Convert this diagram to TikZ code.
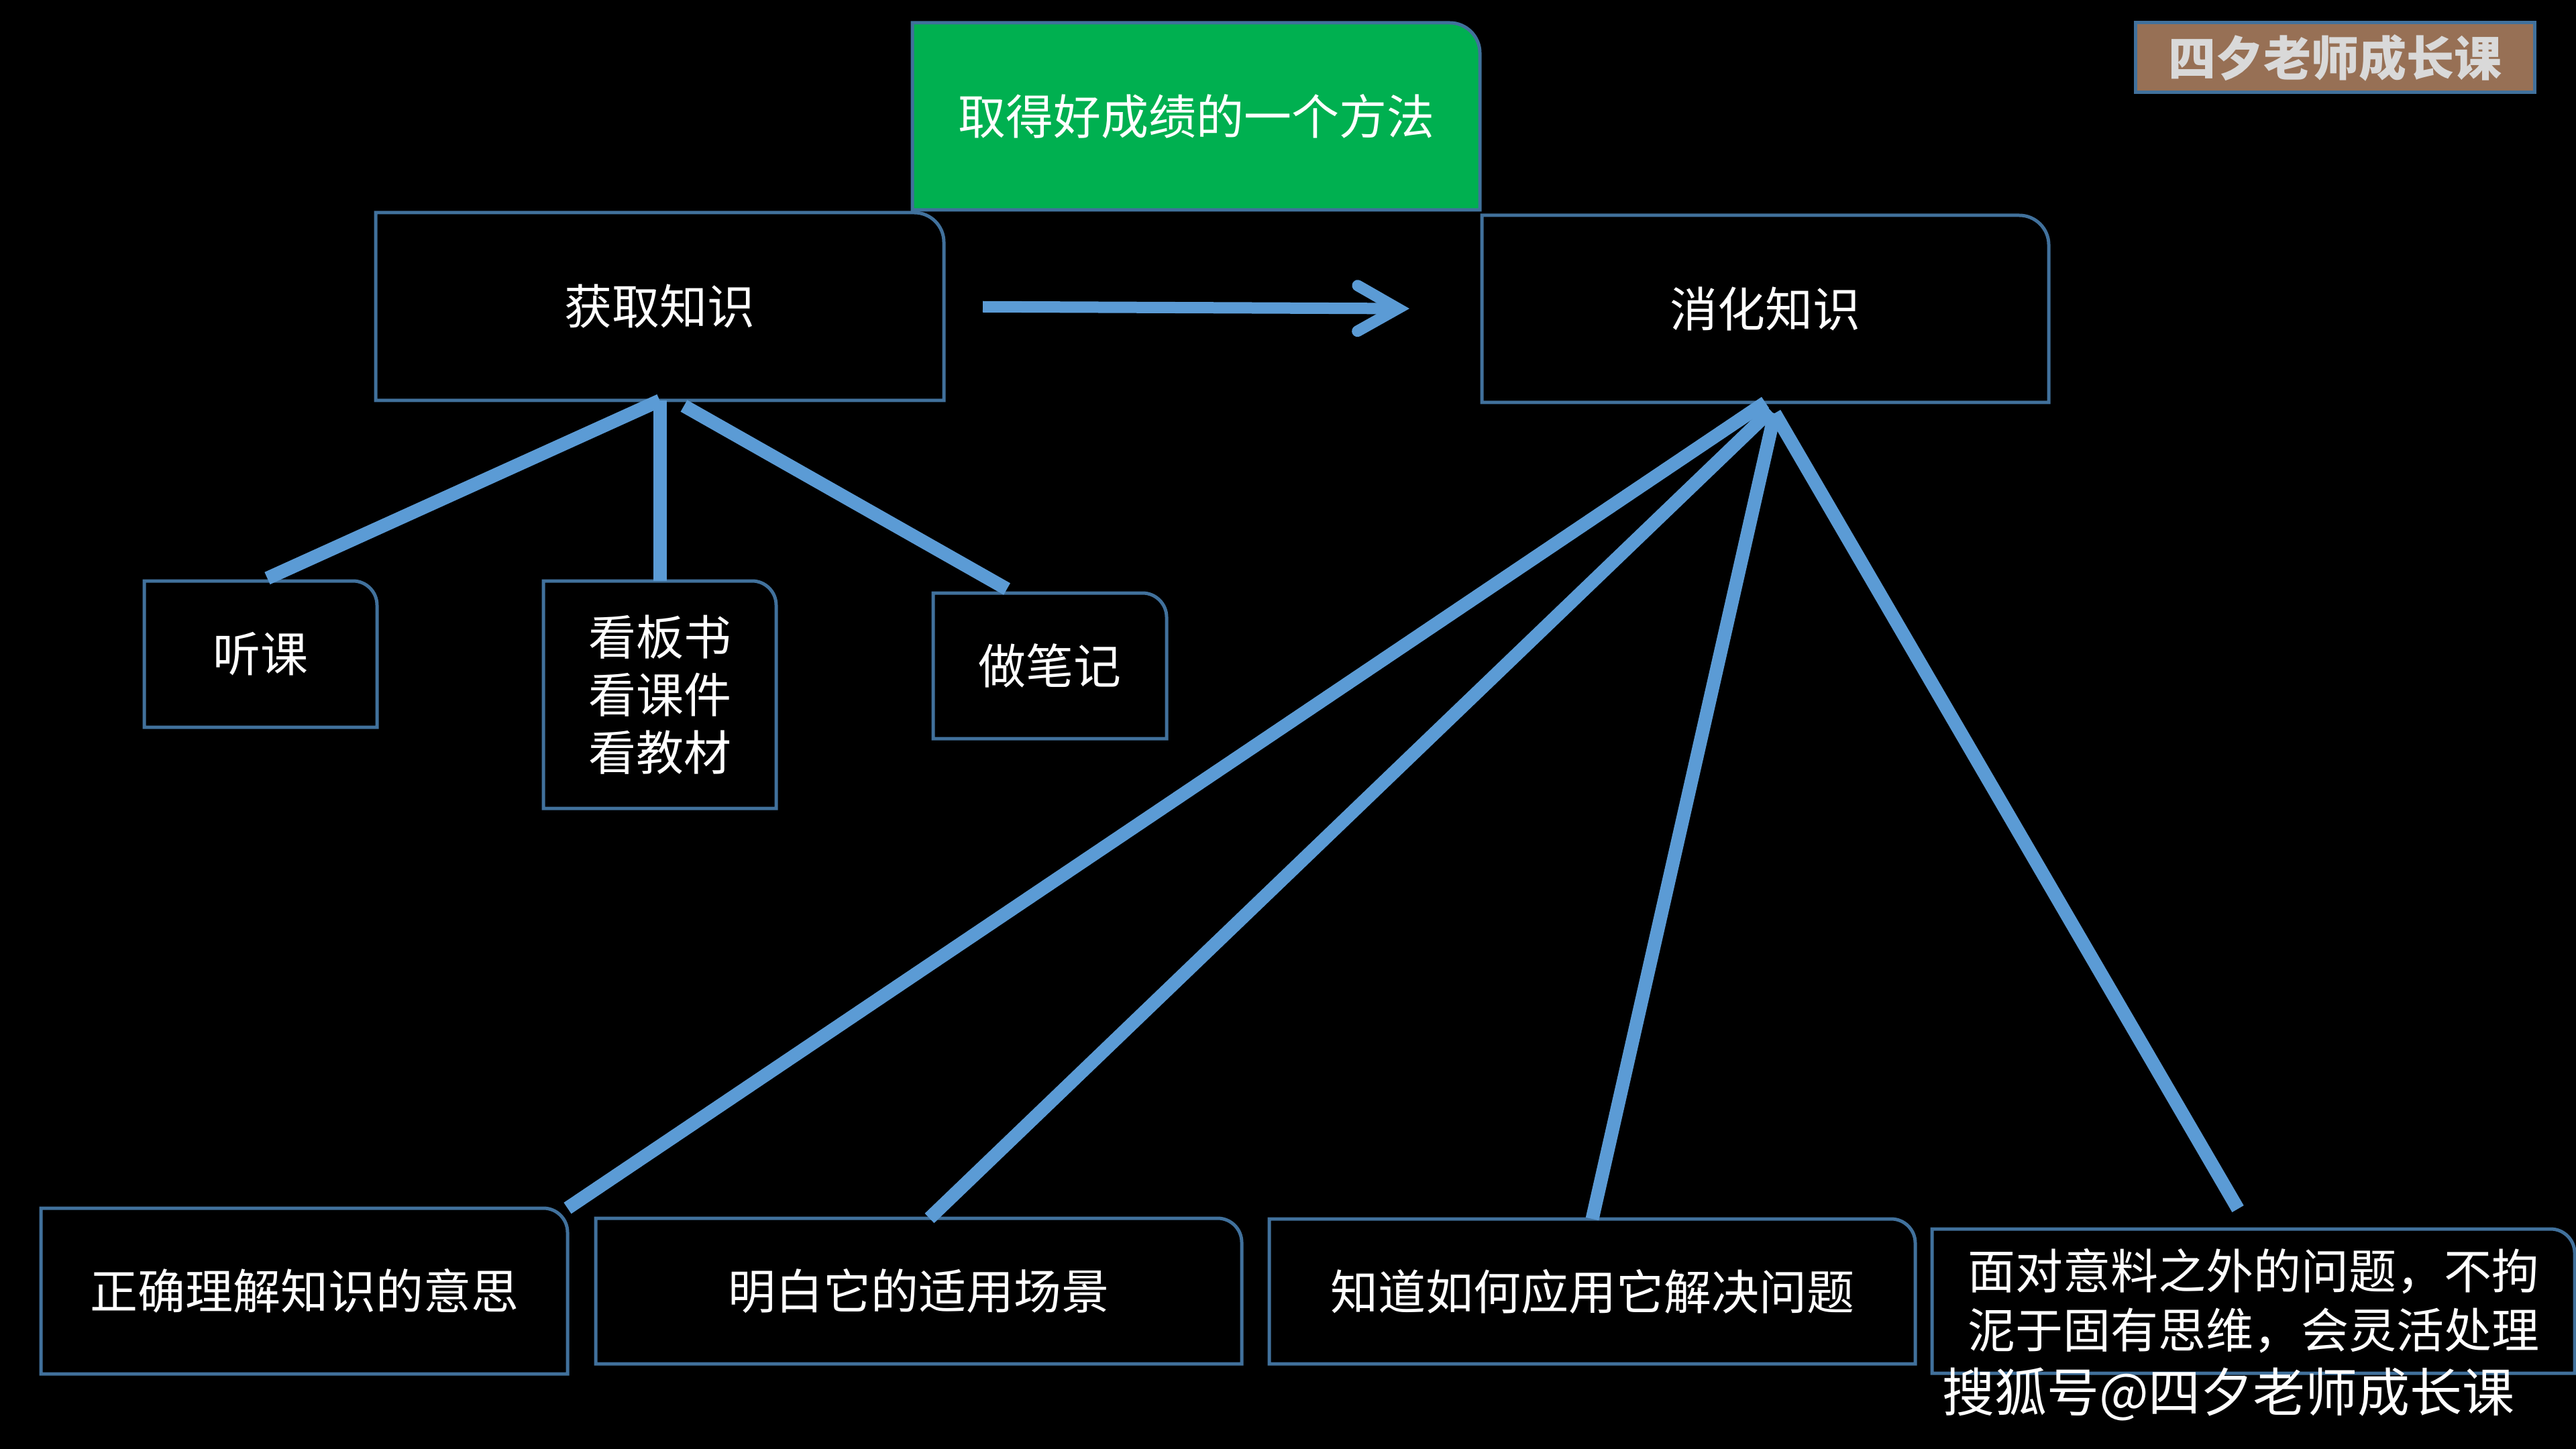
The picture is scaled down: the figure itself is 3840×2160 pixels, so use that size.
\documentclass[tikz,border=0pt]{standalone}
\usepackage{fontspec}
\setmainfont{Noto Sans CJK SC}
\usetikzlibrary{arrows.meta}
\definecolor{conn}{HTML}{5B9BD5}
\definecolor{bord}{HTML}{41719C}
\definecolor{titlegreen}{HTML}{00B050}
\definecolor{wmbrown}{HTML}{977055}
\definecolor{wmtext}{HTML}{D9D9D9}
\pgfdeclarelayer{bg}
\pgfsetlayers{bg,main}
\newcommand\onecorner[3][black]{%
  \filldraw[boxline,fill=#1] (#2.south west) -- (#2.north west) -- ([xshift=-#3]#2.north east)
    arc[start angle=90,end angle=0,radius=#3] -- (#2.south east) -- cycle;}
\tikzset{
  txt/.style={inner sep=0pt, outer sep=0pt, text=white, align=center,
    font=\fontsize{17.75pt}{21.5pt}\selectfont},
  boxline/.style={draw=bord, line width=1.25pt, line join=miter},
  connline/.style={draw=conn, line width=5pt},
  arrowline/.style={draw=conn, line width=4.25pt,
    -{Straight Barb[length=15pt,width=17pt,line cap=round,line join=miter]},
    shorten <=14.5pt, shorten >=27pt},
}
\begin{document}
\begin{tikzpicture}[x=0.25pt,y=-0.25pt]
\begin{pgfonlayer}{bg}
\fill[black] (0,0) rectangle (3840,2160);
\end{pgfonlayer}
\useasboundingbox (0,0) rectangle (3840,2160);

% nodes
\node[txt, minimum width=211.5pt, minimum height=69.75pt] (title) at (1783,173.5) {取得好成绩的一个方法};
\node[txt, minimum width=148.75pt, minimum height=26pt, fill=wmbrown, draw=bord, line width=1.25pt, text=wmtext,
  font=\fontsize{17.75pt}{21.5pt}\selectfont\bfseries] (wm) at (3480.5,86) {四夕老师成长课};
\node[txt, minimum width=211.75pt, minimum height=70pt] (acquire) at (983.5,457) {获取知识};
\node[txt, minimum width=211.25pt, minimum height=69.75pt] (digest) at (2631.5,460.5) {消化知识};
\node[txt, minimum width=86.75pt, minimum height=54.5pt] (listen) at (388.5,975) {听课};
\node[txt, minimum width=86.75pt, minimum height=84.75pt] (look) at (983.5,1035.5) {看板书\\看课件\\看教材};
\node[txt, minimum width=87pt, minimum height=54.25pt] (notes) at (1565,992.5) {做笔记};
\node[txt, minimum width=196.25pt, minimum height=61.75pt] (b1) at (453.5,1924.5) {正确理解知识的意思};
\node[txt, minimum width=240.75pt, minimum height=54.25pt] (b2) at (1369.5,1924.5) {明白它的适用场景};
\node[txt, minimum width=240.75pt, minimum height=54pt] (b3) at (2373.5,1925) {知道如何应用它解决问题};
\node[txt, minimum width=239.5pt, minimum height=53.75pt, font=\fontsize{17.75pt}{22pt}\selectfont] (b4) at (3359,1939.5)
  {面对意料之外的问题，不拘\\泥于固有思维，会灵活处理};

% outlines
\begin{pgfonlayer}{bg}
\onecorner[titlegreen]{title}{11.25pt}
\onecorner{acquire}{11pt}
\onecorner{digest}{11pt}
\onecorner{listen}{9pt}
\onecorner{look}{9pt}
\onecorner{notes}{9pt}
\onecorner{b1}{9pt}
\onecorner{b2}{9pt}
\onecorner{b3}{9pt}
\onecorner{b4}{9pt}
\end{pgfonlayer}

% connectors
\draw[arrowline] (acquire.east) -- (digest.west);
\draw[connline] (acquire.south) -- ([xshift=2.5pt,yshift=1pt]listen.north);
\draw[connline] (acquire.south) -- (look.north);
\draw[connline] ([xshift=9pt,yshift=-2pt]acquire.south) -- ([xshift=-16pt,yshift=1.5pt]notes.north);
\draw[connline] (digest.south) -- (b1.north east);
\draw[connline] ([xshift=2pt,yshift=-3pt]digest.south) -- ([xshift=4pt]b2.north);
\draw[connline] ([xshift=3.5pt,yshift=-4pt]digest.south) -- (b3.north);
\draw[connline] ([xshift=3.5pt,yshift=-4pt]digest.south) -- ([xshift=-5.75pt,yshift=7.5pt]b4.north);

% watermark text
\node[inner sep=0pt, text=white, font=\fontsize{19.5pt}{22pt}\selectfont] (sohu) at (3322,2078) {搜狐号@四夕老师成长课};
\end{tikzpicture}
\end{document}
